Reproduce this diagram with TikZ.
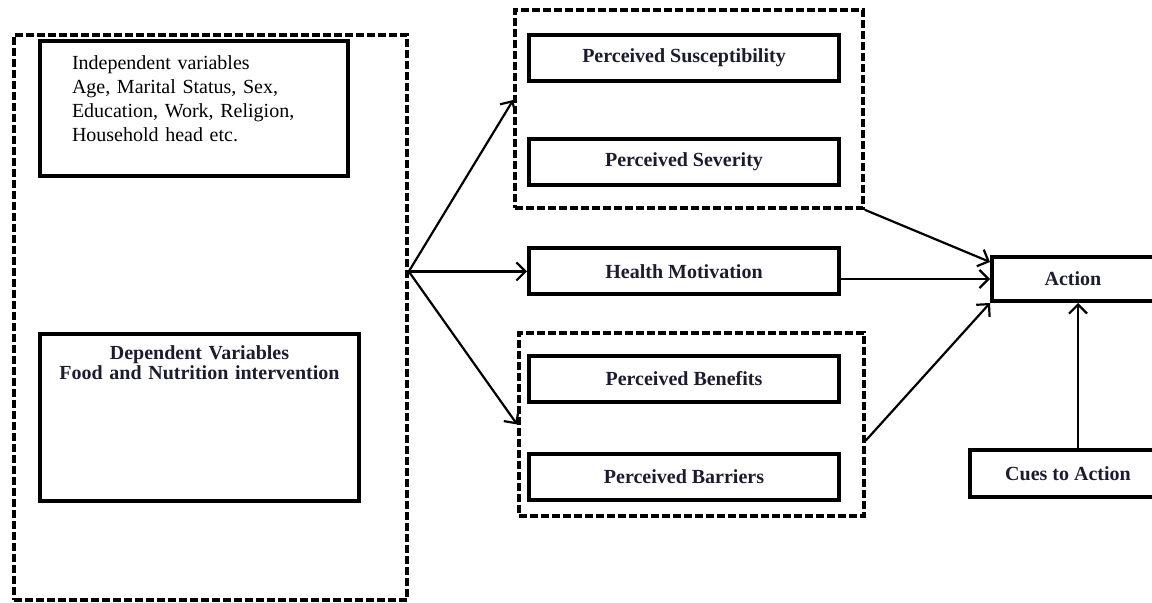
\documentclass[tikz,border=0pt]{standalone}
\usepackage{fontspec}
\setmainfont{Liberation Serif}
\usetikzlibrary{positioning, arrows.meta}
\definecolor{labelink}{RGB}{28,28,48}

\begin{document}
\begin{tikzpicture}[x=0.5pt, y=-0.5pt,
	box/.style = {draw, line width=2pt, inner sep=0pt},
	grp/.style = {draw, line width=1.8pt, dash pattern=on 4pt off 1.5pt, inner sep=0pt},
	lbl/.style = {box, font=\bfseries, text=labelink, minimum width=155pt, minimum height=23pt},
	link/.style = {-{Straight Barb[length=4.5pt, width=9pt]}, line width=1.1pt}]
	\useasboundingbox (0,0) rectangle (1152,603);
	% left frame with the two variable boxes
	\node[grp, minimum width=196.5pt, minimum height=282.5pt] (frame) at (210.5,317.5) {};
	\node[box, anchor=north west, align=left, text width=122pt, inner xsep=16pt, text height=14.5pt, text depth=53pt] (indep) at (38,39) {Independent variables\\Age, Marital Status, Sex,\\Education, Work, Religion,\\Household head etc.};
	\node[box, anchor=north west, align=center, text width=159.5pt, font=\bfseries, text=labelink, text height=13pt, text depth=70.5pt] (dep) at (38,332) {Dependent Variables\\[-2pt]Food and Nutrition intervention};
	% perceptions
	\node[grp, minimum width=174pt, minimum height=99pt] (topgrp) at (689,109) {};
	\node[lbl] (sus) at (684,58) {Perceived Susceptibility};
	\node[lbl] (sev) [below=27pt of sus] {Perceived Severity};
	\node[lbl] (health) at (684,271.5) {Health Motivation};
	\node[grp, minimum width=172.5pt, minimum height=91.5pt] (botgrp) at (691.5,424.5) {};
	\node[lbl] (ben) at (684,379) {Perceived Benefits};
	\node[lbl] (bar) [below=24pt of ben] {Perceived Barriers};
	% action side
	\node[box, font=\bfseries, text=labelink, minimum width=81pt, minimum height=22pt] (act) at (1073,279) {Action};
	\node[box, font=\bfseries, text=labelink, minimum width=98pt, minimum height=23.5pt] (cues) at (1068,473.5) {Cues to Action};
	\coordinate (fan) at (frame.east |- health.west);
	\draw[link] (fan) -- ([yshift=4.5pt]topgrp.west);
	\draw[link] (fan) -- (health);
	\draw[link] (fan) -- (botgrp.west);
	\draw[link] (topgrp.south east) -- ([yshift=8.5pt]act.west);
	\draw[link] (health.east |- act.west) -- (act.west);
	\draw[link] ([yshift=-8pt]botgrp.east) -- (act.south west);
	\draw[link] ([xshift=5pt]cues.north) -- ([xshift=5pt]cues.north |- act.south);
\end{tikzpicture}
\end{document}
